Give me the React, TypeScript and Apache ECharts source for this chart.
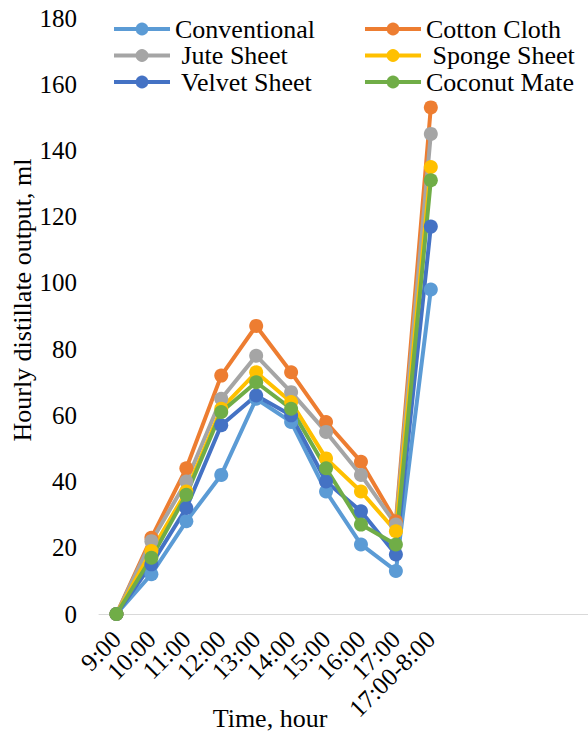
import React, { useEffect, useRef } from "react";
import * as echarts from "echarts";

const timeLabels = ["9:00", "10:00", "11:00", "12:00", "13:00", "14:00", "15:00", "16:00", "17:00", "17:00-8:00"];
const emptySlots = ["", "", "", ""];

const conventional = [0, 12, 28, 42, 65, 58, 37, 21, 13, 98];
const cottonCloth = [0, 23, 44, 72, 87, 73, 58, 46, 28, 153];
const juteSheet = [0, 22, 40, 65, 78, 67, 55, 42, 27, 145];
const spongeSheet = [0, 19, 37, 62, 73, 64, 47, 37, 25, 135];
const velvetSheet = [0, 15, 32, 57, 66, 60, 40, 31, 18, 117];
const coconutMate = [0, 17, 36, 61, 70, 62, 44, 27, 21, 131];

const seriesNames = ["Conventional", "Cotton Cloth", " Jute Sheet", " Sponge Sheet", " Velvet Sheet", "Coconut Mate"];
const seriesColors = ["#5B9BD5", "#ED7D31", "#A5A5A5", "#FFC000", "#4472C4", "#70AD47"];
const seriesData = [conventional, cottonCloth, juteSheet, spongeSheet, velvetSheet, coconutMate];

const FONT = "Liberation Serif";

export default function App() {
  const ref = useRef<HTMLDivElement>(null);
  useEffect(() => {
    if (!ref.current) return;
    const chart = echarts.init(ref.current, null, { renderer: "svg" });
    const legendBase = {
      orient: "vertical" as const,
      top: 16,
      itemWidth: 56,
      itemHeight: 16,
      itemGap: 0.5,
      padding: 0,
      lineStyle: { width: 4 },
      textStyle: { fontFamily: FONT, fontSize: 26, color: "#000", lineHeight: 26 },
    };
    chart.setOption({
      animation: false,
      backgroundColor: "#fff",
      textStyle: { fontFamily: FONT },
      grid: { left: 99, top: 18, width: 489, height: 596 },
      legend: [
        { ...legendBase, left: 112, data: [seriesNames[0], seriesNames[2], seriesNames[4]] },
        { ...legendBase, left: 363, data: [seriesNames[1], seriesNames[3], seriesNames[5]] },
      ],
      xAxis: {
        type: "category",
        data: [...timeLabels, ...emptySlots],
        boundaryGap: true,
        axisLine: { lineStyle: { color: "#D9D9D9", width: 1 } },
        axisTick: { show: false },
        axisLabel: { rotate: 45, interval: 0, fontFamily: FONT, fontSize: 25, color: "#000", margin: 21 },
        splitLine: { show: false },
      },
      yAxis: {
        type: "value",
        min: 0,
        max: 180,
        interval: 20,
        axisLine: { show: false },
        axisTick: { show: false },
        splitLine: { show: false },
        axisLabel: { fontFamily: FONT, fontSize: 25, color: "#000", margin: 22 },
      },
      graphic: [
        {
          type: "text",
          x: 22,
          y: 300,
          rotation: Math.PI / 2,
          style: { text: "Hourly distillate output, ml", fontFamily: FONT, fontSize: 26, fill: "#000", align: "center", verticalAlign: "middle" },
        },
        {
          type: "text",
          x: 270,
          y: 718,
          style: { text: "Time, hour", fontFamily: FONT, fontSize: 26, fill: "#000", align: "center", verticalAlign: "middle" },
        },
      ],
      series: seriesNames.map((name, i) => ({
        name,
        type: "line",
        data: seriesData[i],
        symbol: "circle",
        symbolSize: 14,
        lineStyle: { width: 4, color: seriesColors[i] },
        itemStyle: { color: seriesColors[i] },
        emphasis: { disabled: true },
      })),
    });
    return () => chart.dispose();
  }, []);
  return <div ref={ref} style={{ position: "fixed", left: 0, top: 0, width: 588, height: 736 }} />;
}
